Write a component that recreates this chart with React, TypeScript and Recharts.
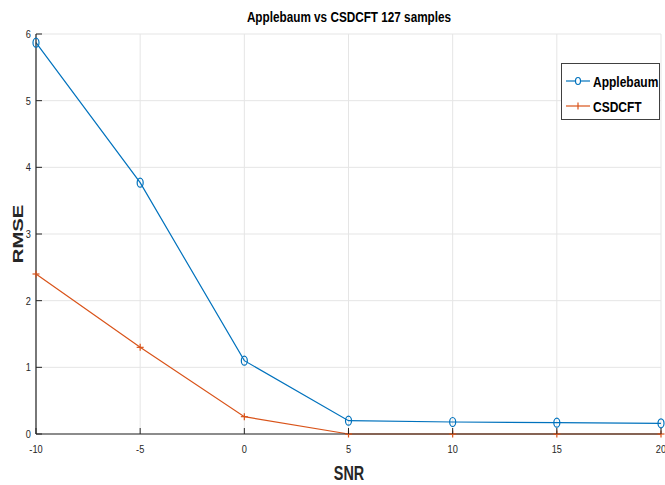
import {
  LineChart,
  Line,
  XAxis,
  YAxis,
  CartesianGrid,
} from "recharts"

const snr = [-10, -5, 0, 5, 10, 15, 20]
const applebaum = [5.87, 3.77, 1.1, 0.2, 0.18, 0.17, 0.16]
const csdcft = [2.4, 1.3, 0.26, 0, 0, 0, 0]
const xTicks = [-10, -5, 0, 5, 10, 15, 20]
const yTicks = [0, 1, 2, 3, 4, 5, 6]

const data = snr.map((s, i) => ({ snr: s, applebaum: applebaum[i], csdcft: csdcft[i] }))

const BLUE = "#0072BD"
const ORANGE = "#D95319"
const AXIS = "#262626"
const FONT = "'Liberation Sans', Arial, sans-serif"

const CircleDot = (props: any) => {
  const { cx, cy } = props
  if (cx == null || cy == null) return null
  return <ellipse cx={cx} cy={cy} rx={3} ry={4.5} fill='none' stroke={BLUE} strokeWidth={1.2} />
}

const PlusDot = (props: any) => {
  const { cx, cy } = props
  if (cx == null || cy == null) return null
  return (
    <g stroke={ORANGE} strokeWidth={1.2}>
      <line x1={cx - 3.5} y1={cy} x2={cx + 3.5} y2={cy} />
      <line x1={cx} y1={cy - 3.5} x2={cx} y2={cy + 3.5} />
    </g>
  )
}

// narrow text, like MATLAB's Helvetica Narrow
const Narrow = ({ x, y, anchor, size, bold, color, children }: any) => (
  <g transform={`translate(${x},${y}) scale(0.84,1)`}>
    <text x={0} y={0} textAnchor={anchor} fontSize={size} fontWeight={bold ? "bold" : "normal"} fill={color || AXIS} fontFamily={FONT}>
      {children}
    </text>
  </g>
)

const XTick = (props: any) => {
  const { x, y, payload } = props
  return (
    <g>
      <line x1={x} y1={y} x2={x} y2={y - 6} stroke={AXIS} />
      <Narrow x={x} y={y + 19} anchor='middle' size={11}>
        {payload.value}
      </Narrow>
    </g>
  )
}

const YTick = (props: any) => {
  const { x, y, payload } = props
  return (
    <g>
      <line x1={x} y1={y} x2={x + 6} y2={y} stroke={AXIS} />
      <Narrow x={x - 5} y={y + 4} anchor='end' size={11}>
        {payload.value}
      </Narrow>
    </g>
  )
}

const TopTick = (props: any) => {
  const { x, y } = props
  return <line x1={x} y1={y} x2={x} y2={y + 6} stroke={AXIS} />
}

const RightTick = (props: any) => {
  const { x, y } = props
  return <line x1={x} y1={y} x2={x - 6} y2={y} stroke={AXIS} />
}

const legendItems = [
  { name: "Applebaum", color: BLUE, circle: true },
  { name: "CSDCFT", color: ORANGE, circle: false },
]

const LegendBox = () => (
  <div
    style={{
      position: "absolute",
      left: 561,
      top: 63,
      width: 97,
      height: 55,
      border: "1px solid #404040",
      background: "#fff",
      fontFamily: FONT,
      fontWeight: "bold",
      fontSize: 15,
      color: "#000",
    }}>
    {legendItems.map((it, i) => (
      <div
        key={it.name}
        style={{ position: "absolute", left: 3, top: 7 + i * 25, height: 20, display: "flex", alignItems: "center" }}>
        <svg width={26} height={12}>
          <line x1={1} y1={6} x2={25} y2={6} stroke={it.color} strokeWidth={1.2} />
          {it.circle ? (
            <ellipse cx={13} cy={6} rx={2.5} ry={3.5} fill='#fff' stroke={it.color} strokeWidth={1.2} />
          ) : (
            <line x1={13} y1={2.5} x2={13} y2={9.5} stroke={it.color} strokeWidth={1.2} />
          )}
        </svg>
        <span style={{ display: "inline-block", transform: "scaleX(0.8)", transformOrigin: "left center", marginLeft: 2 }}>
          {it.name}
        </span>
      </div>
    ))}
  </div>
)

export default function App() {
  return (
    <div style={{ position: "absolute", left: 0, top: 0, width: 665, height: 485, background: "#fff" }}>
      <LineChart width={665} height={485} data={data} margin={{ top: 34, right: 4, left: 0, bottom: 0 }}>
        <CartesianGrid stroke='#e5e5e5' strokeWidth={1} />
        <XAxis
          dataKey='snr'
          type='number'
          domain={[-10, 20]}
          ticks={xTicks}
          height={51}
          tickSize={0}
          tickMargin={0}
          tickLine={false}
          tick={<XTick />}
          stroke={AXIS}
          strokeWidth={1.2}
          interval={0}
        />
        <XAxis
          xAxisId='top'
          orientation='top'
          dataKey='snr'
          type='number'
          domain={[-10, 20]}
          ticks={xTicks}
          height={0}
          tickSize={0}
          tickMargin={0}
          tickLine={false}
          tick={<TopTick />}
          stroke={AXIS}
          strokeWidth={1.2}
          interval={0}
        />
        <YAxis
          type='number'
          domain={[0, 6]}
          ticks={yTicks}
          width={36}
          tickSize={0}
          tickMargin={0}
          tickLine={false}
          tick={<YTick />}
          stroke={AXIS}
          strokeWidth={1.2}
          interval={0}
        />
        <YAxis
          yAxisId='right'
          orientation='right'
          type='number'
          domain={[0, 6]}
          ticks={yTicks}
          width={0}
          tickSize={0}
          tickMargin={0}
          tickLine={false}
          tick={<RightTick />}
          stroke={AXIS}
          strokeWidth={1.2}
          interval={0}
        />
        <Line
          dataKey='applebaum'
          stroke={BLUE}
          strokeWidth={1.2}
          dot={<CircleDot />}
          isAnimationActive={false}
        />
        <Line
          dataKey='csdcft'
          stroke={ORANGE}
          strokeWidth={1.2}
          dot={<PlusDot />}
          isAnimationActive={false}
        />
        <Narrow x={349} y={22} anchor='middle' size={14} bold color='#000'>
          Applebaum vs CSDCFT 127 samples
        </Narrow>
        <g transform='translate(349,480) scale(0.72,1)'>
          <text x={0} y={0} textAnchor='middle' fontSize={20} fontWeight='bold' fill={AXIS} fontFamily={FONT}>
            SNR
          </text>
        </g>
        <g transform='translate(23,234) rotate(-90) scale(1.35,1)'>
          <text x={0} y={0} textAnchor='middle' fontSize={15} fontWeight='bold' fill={AXIS} fontFamily={FONT}>
            RMSE
          </text>
        </g>
      </LineChart>
      <LegendBox />
    </div>
  )
}
